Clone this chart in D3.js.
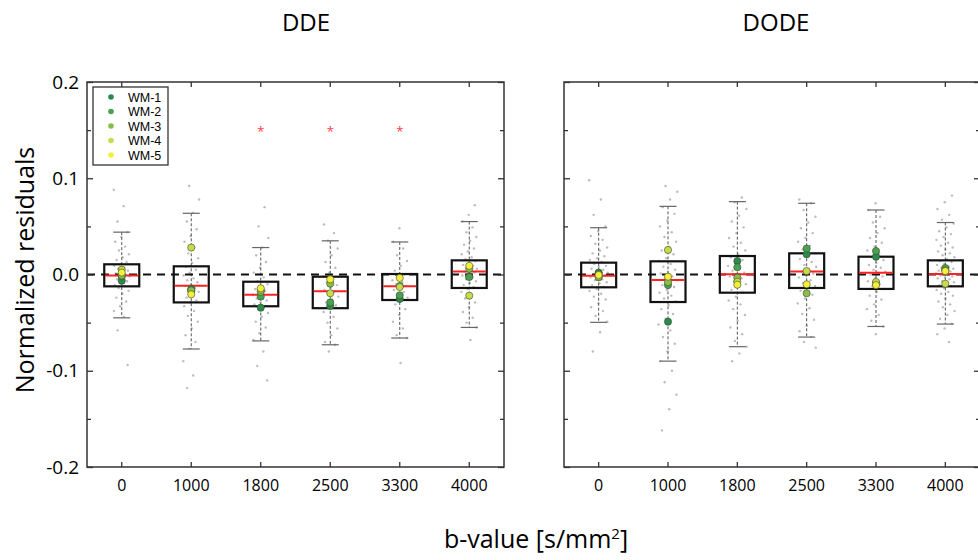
<!DOCTYPE html>
<html><head><meta charset="utf-8">
<script src="https://cdn.jsdelivr.net/npm/d3@7"></script>
<style>body{margin:0;background:#fff} text{font-family:"Open Sans",sans-serif;fill:#000}</style>
</head><body><svg id="c" width="978" height="560"></svg>
<script>
// ---------- data ----------
const categories = ["0", "1000", "1800", "2500", "3300", "4000"];
const yTicks = [-0.2, -0.1, 0.0, 0.1, 0.2];
const yMinorTicks = [-0.15, -0.05, 0.05, 0.15];
const panelTitles = ["DDE", "DODE"];
const wmLabels = ["WM-1", "WM-2", "WM-3", "WM-4", "WM-5"];

// DDE box statistics
const ddeQ1 = [-0.0123, -0.029, -0.033, -0.035, -0.0265, -0.014];
const ddeMedian = [-0.001, -0.0116, -0.021, -0.0175, -0.0123, 0.003];
const ddeQ3 = [0.0106, 0.0085, -0.0075, -0.0023, 0.0005, 0.0147];
const ddeWhiskerLow = [-0.045, -0.0774, -0.069, -0.073, -0.066, -0.055];
const ddeWhiskerHigh = [0.044, 0.0636, 0.028, 0.035, 0.0338, 0.055];
const ddeSignificant = ["1800", "2500", "3300"];
const significanceLevel = 0.15;

// DODE box statistics
const dodeQ1 = [-0.0133, -0.0286, -0.0189, -0.014, -0.015, -0.0123];
const dodeMedian = [-0.0012, -0.0057, 0.0002, 0.003, 0.0019, 0.0005];
const dodeQ3 = [0.0123, 0.0137, 0.0192, 0.022, 0.0185, 0.0147];
const dodeWhiskerLow = [-0.0497, -0.09, -0.075, -0.065, -0.054, -0.0515];
const dodeWhiskerHigh = [0.0486, 0.0708, 0.0757, 0.074, 0.067, 0.054];
const dodeSignificant = [];

// WM region mean residuals (WM-1 .. WM-5), per b-value
const ddeWM1 = [-0.0065, -0.015, -0.0345, -0.0327, -0.0255, -0.002];
const ddeWM2 = [-0.002, -0.017, -0.023, -0.029, -0.0216, -0.0026];
const ddeWM3 = [-0.001, -0.0165, -0.018, -0.0095, -0.012, 0.006];
const ddeWM4 = [0.005, 0.028, -0.016, -0.0195, -0.013, -0.022];
const ddeWM5 = [0.002, -0.0206, -0.0144, -0.005, -0.0036, 0.009];
const dodeWM1 = [0.002, -0.049, 0.014, 0.021, 0.0185, 0.005];
const dodeWM2 = [0.001, -0.011, 0.0075, 0.027, 0.0244, 0.0067];
const dodeWM3 = [-0.003, -0.008, -0.0033, -0.0195, -0.009, 0.004];
const dodeWM4 = [-0.002, 0.0255, -0.0075, 0.0036, -0.0078, -0.0096];
const dodeWM5 = [-0.0005, -0.0023, -0.0106, -0.0102, -0.011, 0.0036];

// individual voxel residuals (approximate)
const ddeCloud = [
  [0.088, 0.071, 0.055, 0.044, 0.039, 0.034, 0.029, 0.025, 0.021, 0.018, 0.015, 0.013, 0.011, 0.009, 0.007, 0.006, 0.004, 0.003, 0.001, 0.0, -0.001, -0.002, -0.004, -0.005, -0.007, -0.009, -0.011, -0.012, -0.014, -0.017, -0.02, -0.024, -0.028, -0.033, -0.038, -0.044, -0.058, -0.094],
  [0.092, 0.078, 0.064, 0.055, 0.047, 0.04, 0.034, 0.028, 0.022, 0.017, 0.012, 0.008, 0.005, 0.002, -0.001, -0.004, -0.006, -0.008, -0.01, -0.012, -0.014, -0.016, -0.018, -0.021, -0.024, -0.027, -0.029, -0.033, -0.038, -0.043, -0.049, -0.056, -0.063, -0.07, -0.077, -0.09, -0.105, -0.118],
  [0.07, 0.05, 0.038, 0.028, 0.02, 0.013, 0.007, 0.002, -0.003, -0.007, -0.01, -0.013, -0.015, -0.017, -0.019, -0.021, -0.023, -0.025, -0.027, -0.029, -0.031, -0.033, -0.036, -0.04, -0.044, -0.049, -0.055, -0.061, -0.068, -0.08, -0.095, -0.11],
  [0.052, 0.043, 0.035, 0.027, 0.02, 0.013, 0.007, 0.002, -0.002, -0.005, -0.008, -0.011, -0.014, -0.016, -0.018, -0.02, -0.023, -0.026, -0.029, -0.032, -0.035, -0.039, -0.044, -0.05, -0.056, -0.063, -0.07, -0.073, -0.08],
  [0.048, 0.034, 0.027, 0.02, 0.014, 0.009, 0.004, 0.0, -0.003, -0.006, -0.008, -0.01, -0.012, -0.014, -0.016, -0.018, -0.021, -0.024, -0.027, -0.031, -0.036, -0.042, -0.049, -0.056, -0.063, -0.066, -0.092],
  [0.072, 0.062, 0.055, 0.049, 0.044, 0.039, 0.035, 0.031, 0.027, 0.024, 0.021, 0.018, 0.016, 0.014, 0.012, 0.01, 0.009, 0.007, 0.006, 0.004, 0.003, 0.002, 0.0, -0.001, -0.003, -0.005, -0.007, -0.009, -0.011, -0.013, -0.015, -0.018, -0.021, -0.025, -0.029, -0.034, -0.039, -0.045, -0.05, -0.055, -0.068]
];
const dodeCloud = [
  [0.098, 0.078, 0.062, 0.05, 0.045, 0.04, 0.036, 0.032, 0.028, 0.025, 0.022, 0.019, 0.017, 0.015, 0.013, 0.011, 0.009, 0.008, 0.006, 0.005, 0.003, 0.002, 0.001, 0.0, -0.001, -0.002, -0.003, -0.005, -0.006, -0.008, -0.009, -0.011, -0.013, -0.015, -0.017, -0.02, -0.023, -0.026, -0.03, -0.034, -0.038, -0.043, -0.049, -0.06, -0.08],
  [0.092, 0.086, 0.078, 0.07, 0.063, 0.056, 0.05, 0.044, 0.039, 0.034, 0.029, 0.025, 0.021, 0.017, 0.014, 0.011, 0.008, 0.005, 0.003, 0.001, -0.002, -0.004, -0.006, -0.008, -0.011, -0.013, -0.016, -0.019, -0.022, -0.025, -0.028, -0.032, -0.036, -0.041, -0.046, -0.052, -0.058, -0.065, -0.072, -0.08, -0.09, -0.1, -0.112, -0.125, -0.14, -0.162],
  [0.08, 0.075, 0.068, 0.061, 0.055, 0.049, 0.043, 0.038, 0.033, 0.029, 0.025, 0.021, 0.018, 0.015, 0.012, 0.009, 0.006, 0.004, 0.002, 0.0, -0.002, -0.004, -0.007, -0.01, -0.013, -0.016, -0.019, -0.023, -0.027, -0.031, -0.036, -0.042, -0.048, -0.055, -0.062, -0.069, -0.075, -0.082, -0.09],
  [0.078, 0.074, 0.067, 0.06, 0.054, 0.048, 0.043, 0.038, 0.034, 0.03, 0.026, 0.022, 0.019, 0.016, 0.013, 0.01, 0.008, 0.005, 0.003, 0.001, -0.001, -0.003, -0.006, -0.009, -0.012, -0.014, -0.017, -0.021, -0.025, -0.03, -0.035, -0.041, -0.047, -0.053, -0.059, -0.065, -0.07, -0.076],
  [0.074, 0.067, 0.06, 0.054, 0.048, 0.043, 0.038, 0.033, 0.029, 0.025, 0.022, 0.018, 0.015, 0.012, 0.01, 0.007, 0.005, 0.003, 0.002, 0.0, -0.002, -0.004, -0.007, -0.01, -0.012, -0.015, -0.018, -0.022, -0.026, -0.031, -0.036, -0.042, -0.048, -0.054, -0.062],
  [0.082, 0.075, 0.068, 0.062, 0.057, 0.053, 0.049, 0.045, 0.042, 0.039, 0.036, 0.033, 0.03, 0.028, 0.026, 0.024, 0.022, 0.02, 0.018, 0.016, 0.014, 0.013, 0.011, 0.01, 0.008, 0.007, 0.006, 0.005, 0.004, 0.003, 0.002, 0.001, 0.0, -0.001, -0.002, -0.003, -0.004, -0.005, -0.007, -0.008, -0.01, -0.011, -0.012, -0.014, -0.016, -0.018, -0.02, -0.022, -0.025, -0.028, -0.031, -0.034, -0.038, -0.042, -0.046, -0.051, -0.056, -0.062, -0.07]
];

// ---------- layout / style ----------
const wmColors = ["#2b8a4e", "#4aa14f", "#8abd4a", "#c9db4b", "#f4ef3a"];
const svg = d3.select("#c");
const plotTop = 82, plotBottom = 467;
const y = d3.scaleLinear().domain([-0.2, 0.2]).range([plotBottom, plotTop]);

const panels = [
  {title: panelTitles[0], left: 87, right: 504, titleX: 306, labels: true, legend: true, spread: 16,
   q1: ddeQ1, med: ddeMedian, q3: ddeQ3, wlo: ddeWhiskerLow, whi: ddeWhiskerHigh,
   wm: [ddeWM1, ddeWM2, ddeWM3, ddeWM4, ddeWM5], cloud: ddeCloud, sig: ddeSignificant},
  {title: panelTitles[1], left: 564, right: 980, titleX: 776, labels: false, legend: false, spread: 19,
   q1: dodeQ1, med: dodeMedian, q3: dodeQ3, wlo: dodeWhiskerLow, whi: dodeWhiskerHigh,
   wm: [dodeWM1, dodeWM2, dodeWM3, dodeWM4, dodeWM5], cloud: dodeCloud, sig: dodeSignificant}
];

panels.forEach(p => {
  const x = d3.scaleBand().domain(categories).range([p.left, p.right]).padding(0);
  const cx = c => x(c) + x.bandwidth() / 2;
  const g = svg.append("g");
  const boxW = 35, capW = 17;

  // clouds
  p.cloud.forEach((vals, i) => {
    const c = categories[i];
    g.append("g").selectAll("circle").data(vals).join("circle")
      .attr("cx", (v, j) => cx(c) + (((j * 0.618034 + i * 0.37) % 1) - 0.5) * p.spread)
      .attr("cy", v => y(v))
      .attr("r", 1.2)
      .attr("fill", "#909090")
      .attr("opacity", 0.6);
  });

  // whiskers
  categories.forEach((c, i) => {
    g.append("line").attr("x1", cx(c)).attr("x2", cx(c))
      .attr("y1", y(p.whi[i])).attr("y2", y(p.wlo[i]))
      .attr("stroke", "#555").attr("stroke-width", 1).attr("stroke-dasharray", "3,2");
    [p.whi[i], p.wlo[i]].forEach(v => {
      g.append("line").attr("x1", cx(c) - capW / 2).attr("x2", cx(c) + capW / 2)
        .attr("y1", y(v)).attr("y2", y(v)).attr("stroke", "#666").attr("stroke-width", 1.2);
    });
  });

  // zero line
  g.append("line").attr("x1", p.left).attr("x2", p.right)
    .attr("y1", y(0)).attr("y2", y(0))
    .attr("stroke", "#111").attr("stroke-width", 2).attr("stroke-dasharray", "8,6");

  // boxes + medians
  categories.forEach((c, i) => {
    g.append("rect").attr("x", cx(c) - boxW / 2).attr("width", boxW)
      .attr("y", y(p.q3[i])).attr("height", y(p.q1[i]) - y(p.q3[i]))
      .attr("fill", "none").attr("stroke", "#111").attr("stroke-width", 2.2);
    g.append("line").attr("x1", cx(c) - boxW / 2 + 1).attr("x2", cx(c) + boxW / 2 - 1)
      .attr("y1", y(p.med[i])).attr("y2", y(p.med[i]))
      .attr("stroke", "#ff2020").attr("stroke-width", 2);
  });

  // WM dots
  p.wm.forEach((arr, k) => {
    g.append("g").selectAll("circle").data(arr).join("circle")
      .attr("cx", (v, i) => cx(categories[i]))
      .attr("cy", v => y(v))
      .attr("r", 3.6)
      .attr("fill", wmColors[k]).attr("stroke", "#3a4a30").attr("stroke-width", 0.6);
  });

  // significance markers
  g.append("g").selectAll("text").data(p.sig).join("text")
    .attr("x", c => cx(c)).attr("y", y(significanceLevel) + 6)
    .attr("text-anchor", "middle").style("font-size", "13px").style("fill", "#ff4040")
    .text("*");

  // frame
  g.append("rect").attr("x", p.left).attr("y", plotTop)
    .attr("width", p.right - p.left).attr("height", plotBottom - plotTop)
    .attr("fill", "none").attr("stroke", "#333").attr("stroke-width", 1.5);

  const tickStyle = sel => { sel.select(".domain").remove(); sel.selectAll(".tick line").attr("stroke", "#333").attr("stroke-width", 1.3); };

  // y axes
  const yl = g.append("g").attr("transform", `translate(${p.left},0)`)
    .call(d3.axisLeft(y).tickValues(yTicks).tickSize(-6).tickPadding(8)
      .tickFormat(v => p.labels ? v.toFixed(1) : ""));
  tickStyle(yl);
  yl.selectAll(".tick text").style("font-size", "19px").style("font-family", "Open Sans, sans-serif").attr("fill", "#000");
  const ylm = g.append("g").attr("transform", `translate(${p.left},0)`)
    .call(d3.axisLeft(y).tickValues(yMinorTicks).tickSize(-4).tickFormat(""));
  tickStyle(ylm);
  const yr = g.append("g").attr("transform", `translate(${p.right},0)`)
    .call(d3.axisRight(y).tickValues(yTicks).tickSize(-6).tickFormat(""));
  tickStyle(yr);
  const yrm = g.append("g").attr("transform", `translate(${p.right},0)`)
    .call(d3.axisRight(y).tickValues(yMinorTicks).tickSize(-4).tickFormat(""));
  tickStyle(yrm);

  // x axes
  const xb = g.append("g").attr("transform", `translate(0,${plotBottom})`)
    .call(d3.axisBottom(x).tickSize(-5).tickPadding(13));
  tickStyle(xb);
  xb.selectAll(".tick text").style("font-size", "16px").style("font-family", "Open Sans, sans-serif").attr("fill", "#000");
  const xt = g.append("g").attr("transform", `translate(0,${plotTop})`)
    .call(d3.axisTop(x).tickSize(-5).tickFormat(""));
  tickStyle(xt);

  // title
  svg.append("text").attr("x", p.titleX)
    .attr("y", 31).attr("text-anchor", "middle").style("font-size", "24px").text(p.title);

  // legend
  if (p.legend) {
    const lg = g.append("g").attr("transform", `translate(${p.left + 6},${plotTop + 5})`);
    lg.append("rect").attr("width", 75).attr("height", 78)
      .attr("fill", "#fff").attr("stroke", "#333").attr("stroke-width", 1.3);
    wmLabels.forEach((lab, k) => {
      lg.append("circle").attr("cx", 18).attr("cy", 10 + k * 14.5).attr("r", 2.8).attr("fill", wmColors[k]);
      lg.append("text").attr("x", 35).attr("y", 14.5 + k * 14.5)
        .style("font-family", "Liberation Sans, Arial, sans-serif").style("font-size", "12.5px").text(lab);
    });
  }
});

// axis titles
svg.append("text").attr("x", 536).attr("y", 548).attr("text-anchor", "middle")
  .style("font-size", "25px").html('b-value [s/mm<tspan dy="-9" style="font-size:15px">2</tspan><tspan dy="9">]</tspan>');
svg.append("text").attr("transform", "translate(34,270) rotate(-90)").attr("text-anchor", "middle")
  .style("font-size", "25px").text("Normalized residuals");
</script></body></html>
